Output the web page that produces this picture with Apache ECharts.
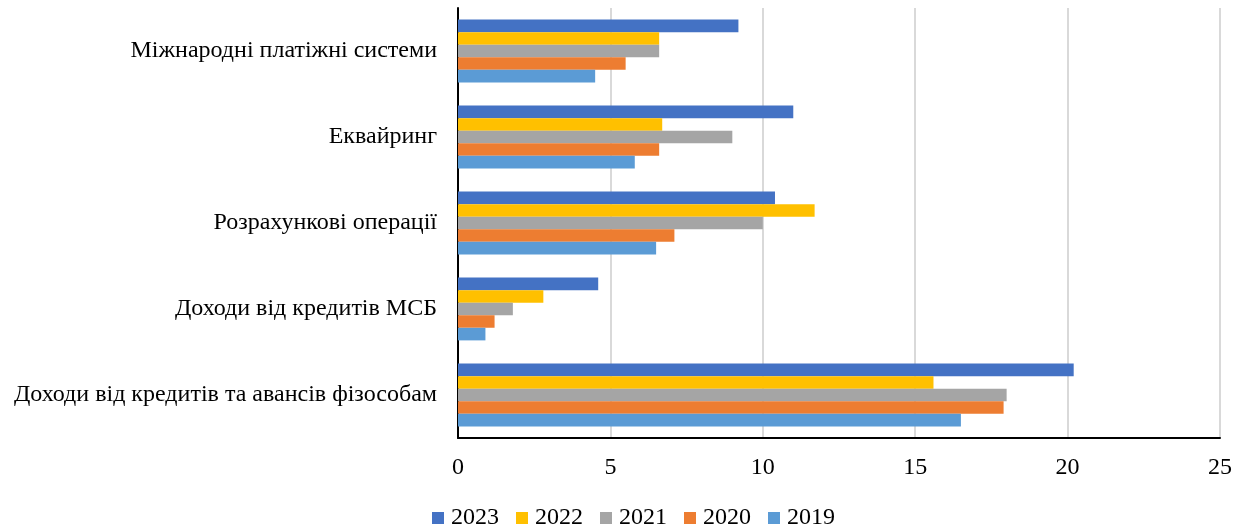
<!DOCTYPE html>
<html>
<head>
<meta charset="utf-8">
<script src="https://cdn.jsdelivr.net/npm/echarts@6/dist/echarts.min.js"></script>
<style>
  html, body { margin: 0; padding: 0; background: #fff; }
  #chart { width: 1248px; height: 528px; }
</style>
</head>
<body>
<div id="chart"></div>
<script>
// categories, bottom to top
const categories = [
  'Доходи від кредитів та авансів фізособам',
  'Доходи від кредитів МСБ',
  'Розрахункові операції',
  'Еквайринг',
  'Міжнародні платіжні системи'
]

const years = ['2023', '2022', '2021', '2020', '2019']
const colors = ['#4472C4', '#FFC000', '#A5A5A5', '#ED7D31', '#5B9BD5']

const v2023 = [20.2, 4.6, 10.4, 11.0, 9.2]
const v2022 = [15.6, 2.8, 11.7, 6.7, 6.6]
const v2021 = [18.0, 1.8, 10.0, 9.0, 6.6]
const v2020 = [17.9, 1.2, 7.1, 6.6, 5.5]
const v2019 = [16.5, 0.9, 6.5, 5.8, 4.5]
const values = [v2023, v2022, v2021, v2020, v2019]

const font = '"Liberation Serif", "Times New Roman", serif'

const chart = echarts.init(document.getElementById('chart'))

const series = years.map((y, i) => ({
  name: y,
  type: 'bar',
  data: values[i],
  barGap: '0%',
  barCategoryGap: '27%',
  itemStyle: { color: colors[i] }
}))

chart.setOption({
  animation: false,
  textStyle: { fontFamily: font },
  grid: { left: 458, right: 28, top: 8, bottom: 90, containLabel: false },
  legend: {
    data: years,
    bottom: -7,
    left: 427,
    icon: 'rect',
    itemWidth: 12,
    itemHeight: 12,
    itemGap: 17,
    textStyle: { fontFamily: font, fontSize: 24, color: '#000', padding: [0, 0, 0, 2] },
  },
  xAxis: {
    type: 'value',
    min: 0,
    max: 25,
    interval: 5,
    axisLine: { show: true, lineStyle: { color: '#000', width: 2 } },
    axisTick: { show: false },
    axisLabel: { color: '#000', fontSize: 24, margin: 18, fontFamily: font },
    splitLine: { show: true, lineStyle: { color: '#d9d9d9', width: 2 } }
  },
  yAxis: {
    type: 'category',
    data: categories,
    axisLine: { show: true, lineStyle: { color: '#000', width: 2 } },
    axisTick: { show: false },
    axisLabel: { color: '#000', fontSize: 24, margin: 21, fontFamily: font }
  },
  series: series
})
</script>
</body>
</html>
